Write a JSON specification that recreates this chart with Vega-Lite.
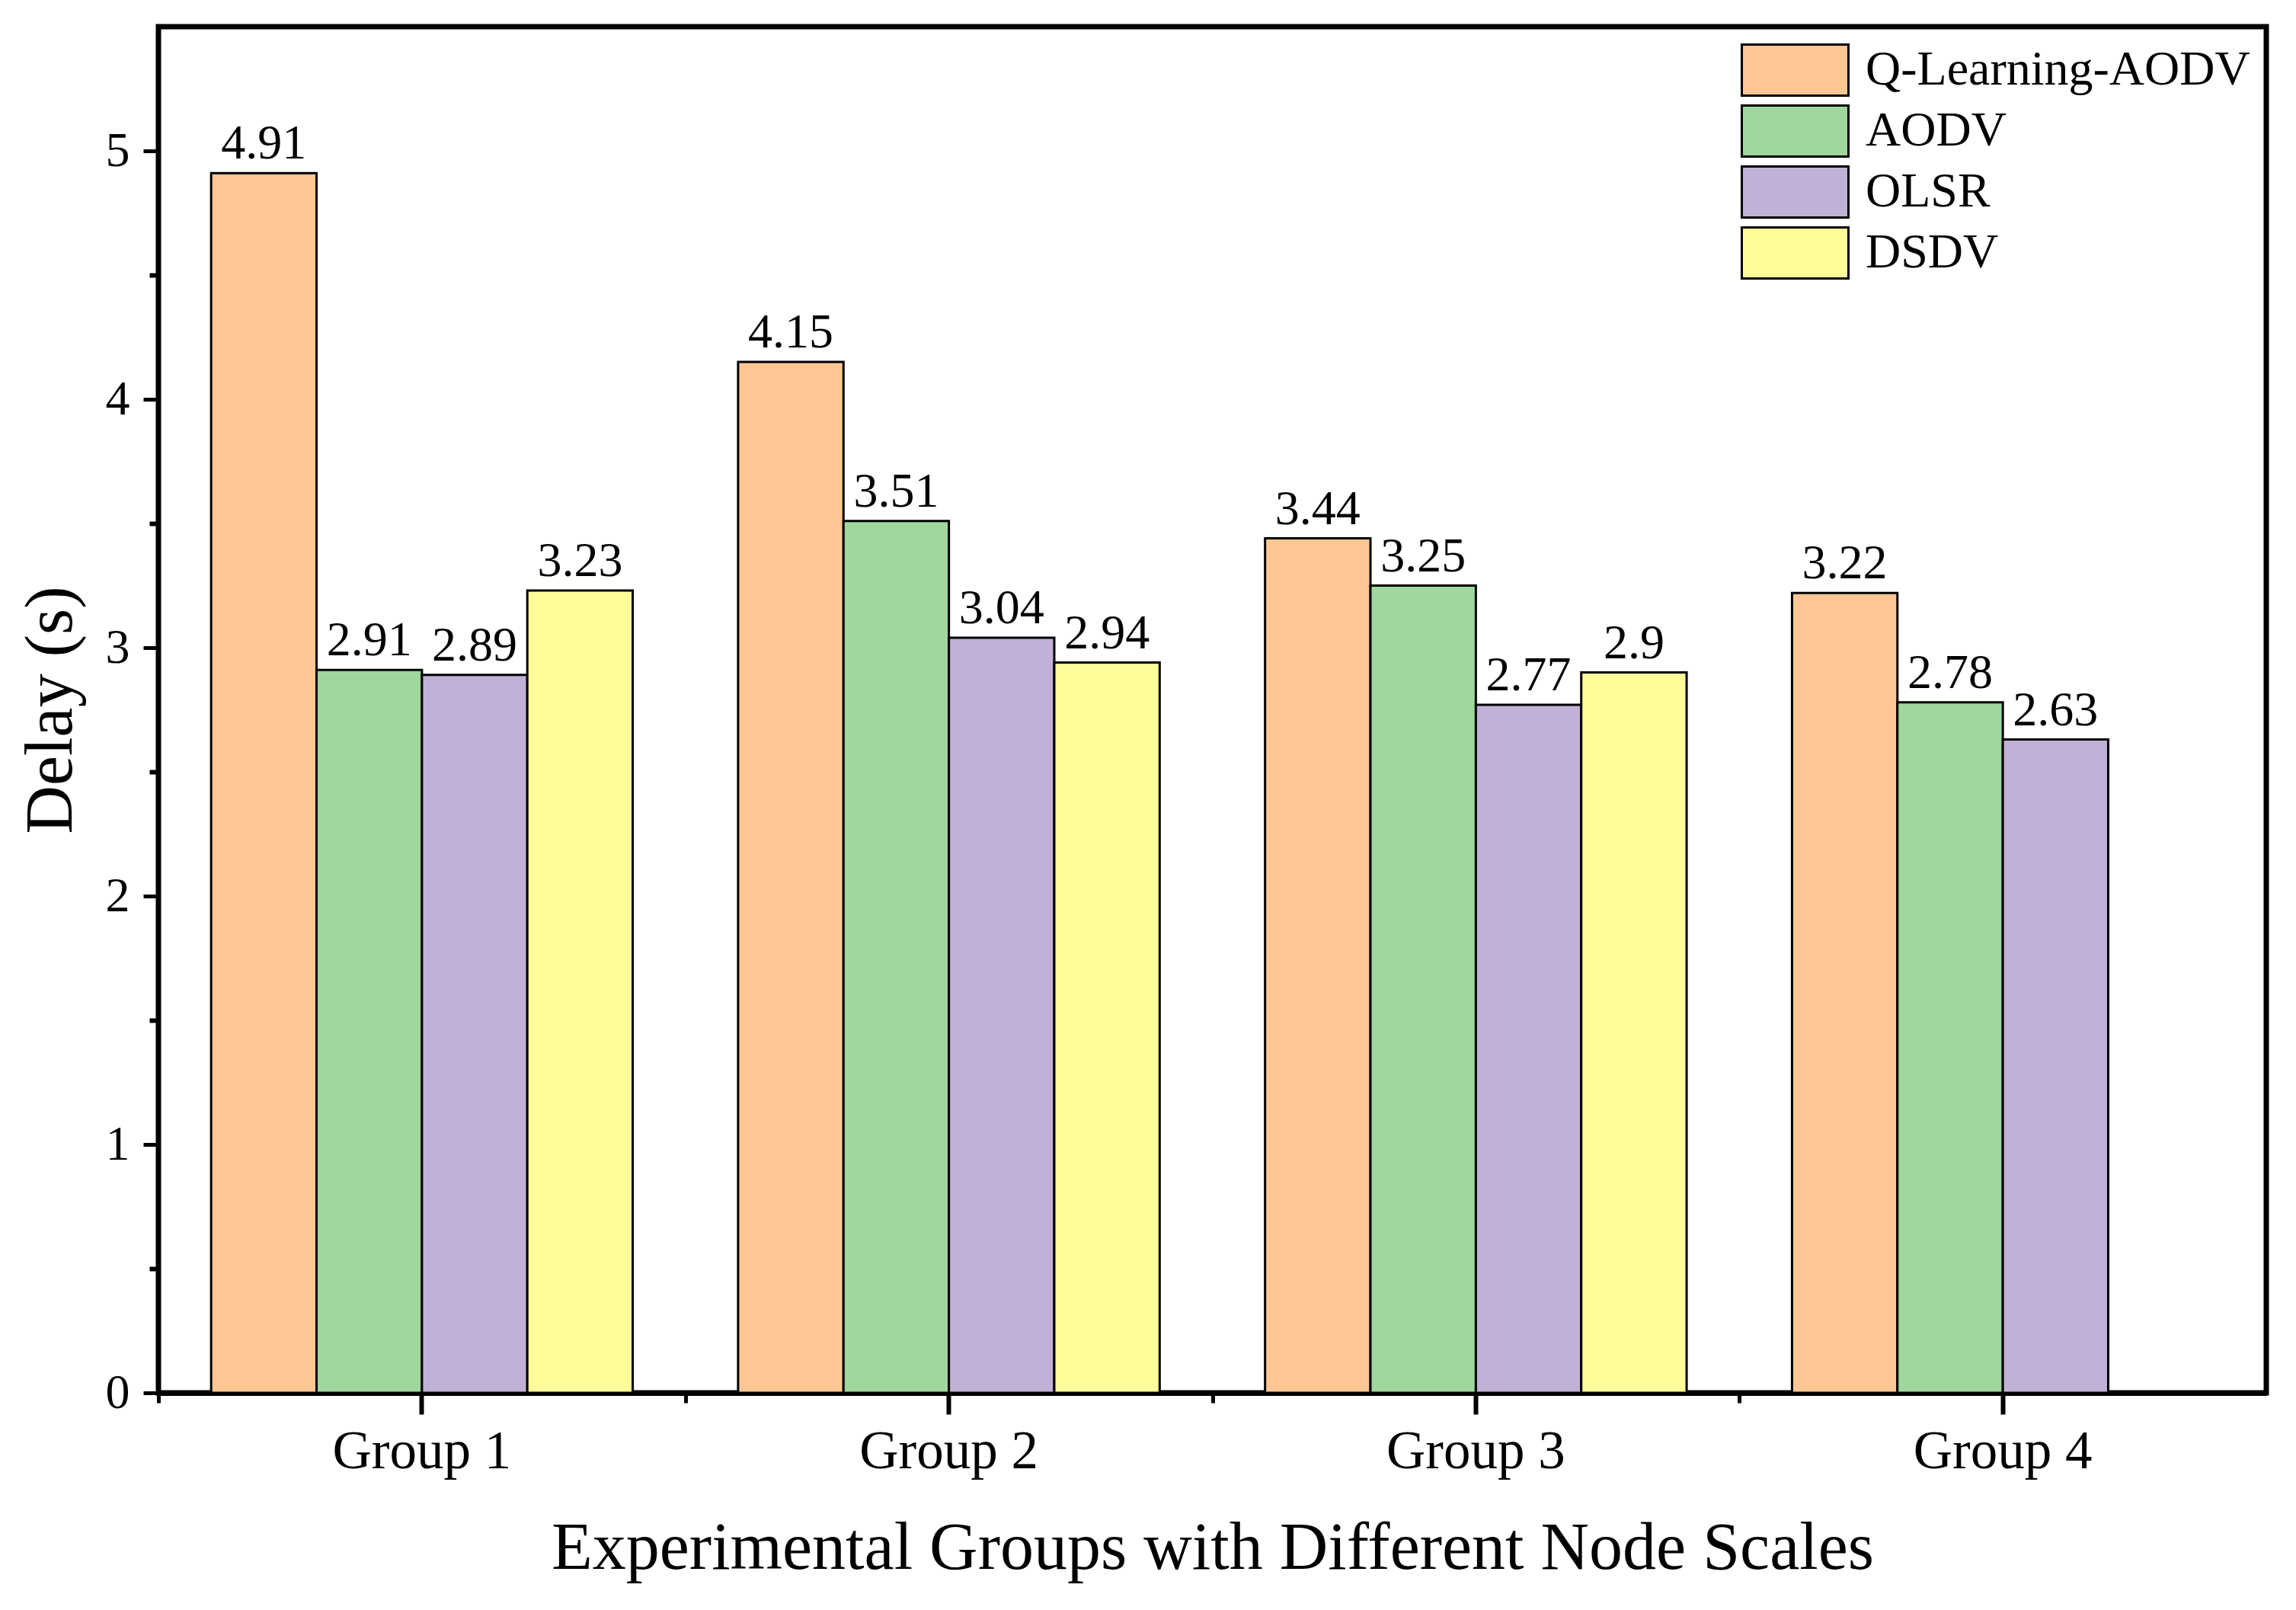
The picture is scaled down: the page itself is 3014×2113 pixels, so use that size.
{
  "$schema": "https://vega.github.io/schema/vega-lite/v6.json",
  "width": 2767,
  "height": 1793,
  "autosize": {"type": "none"},
  "padding": {"left": 208, "top": 35, "right": 39, "bottom": 285},
  "background": "white",
  "data": {
    "values": [
      {"group": "Group 1", "protocol": "Q-Learning-AODV", "delay": 4.91},
      {"group": "Group 1", "protocol": "AODV", "delay": 2.91},
      {"group": "Group 1", "protocol": "OLSR", "delay": 2.89},
      {"group": "Group 1", "protocol": "DSDV", "delay": 3.23},
      {"group": "Group 2", "protocol": "Q-Learning-AODV", "delay": 4.15},
      {"group": "Group 2", "protocol": "AODV", "delay": 3.51},
      {"group": "Group 2", "protocol": "OLSR", "delay": 3.04},
      {"group": "Group 2", "protocol": "DSDV", "delay": 2.94},
      {"group": "Group 3", "protocol": "Q-Learning-AODV", "delay": 3.44},
      {"group": "Group 3", "protocol": "AODV", "delay": 3.25},
      {"group": "Group 3", "protocol": "OLSR", "delay": 2.77},
      {"group": "Group 3", "protocol": "DSDV", "delay": 2.9},
      {"group": "Group 4", "protocol": "Q-Learning-AODV", "delay": 3.22},
      {"group": "Group 4", "protocol": "AODV", "delay": 2.78},
      {"group": "Group 4", "protocol": "OLSR", "delay": 2.63}
    ]
  },
  "layer": [
    {
      "mark": {"type": "bar", "stroke": "black", "strokeWidth": 3},
      "encoding": {
        "x": {
          "field": "group",
          "type": "nominal",
          "sort": null,
          "scale": {"paddingInner": 0, "paddingOuter": 0},
          "axis": {
            "orient": "bottom",
            "title": null,
            "labels": false,
            "ticks": true,
            "tickOffset": -345.875,
            "tickSize": 13,
            "tickWidth": 5,
            "domainWidth": 7
          }
        },
        "xOffset": {
          "field": "protocol",
          "type": "nominal",
          "scale": {
            "domain": ["Q-Learning-AODV", "AODV", "OLSR", "DSDV"],
            "paddingInner": 0,
            "paddingOuter": 0.5
          }
        },
        "y": {
          "field": "delay",
          "type": "quantitative",
          "scale": {"domain": [0, 5.5], "nice": false},
          "axis": {
            "orient": "left",
            "title": "Delay (s)",
            "titleFontSize": 88,
            "titleFontWeight": "normal",
            "titlePadding": 27,
            "values": [0, 1, 2, 3, 4, 5],
            "labelFontSize": 64,
            "labelPadding": 18,
            "tickSize": 20,
            "tickWidth": 5,
            "domainWidth": 5,
            "grid": false
          }
        },
        "color": {
          "field": "protocol",
          "type": "nominal",
          "scale": {
            "domain": ["Q-Learning-AODV", "AODV", "OLSR", "DSDV"],
            "range": ["#FDC794", "#9FD79D", "#C1B1D6", "#FEFD99"]
          },
          "legend": {
            "title": null,
            "orient": "none",
            "legendX": 2077,
            "legendY": 17,
            "padding": 0,
            "symbolType": "M-1,-0.48L1,-0.48L1,0.48L-1,0.48Z",
            "symbolSize": 19600,
            "symbolStrokeColor": "black",
            "symbolStrokeWidth": 3,
            "symbolOpacity": 1,
            "clipHeight": 80,
            "rowPadding": 0,
            "labelFontSize": 64,
            "labelOffset": 21,
            "labelLimit": 1000
          }
        }
      }
    },
    {
      "mark": {"type": "text", "baseline": "bottom", "dy": -6, "fontSize": 64},
      "encoding": {
        "x": {
          "field": "group",
          "type": "nominal",
          "sort": null,
          "axis": {
            "orient": "bottom",
            "title": "Experimental Groups with Different Node Scales",
            "titleFontSize": 88,
            "titleFontWeight": "normal",
            "titlePadding": 48,
            "labelFontSize": 71,
            "labelAngle": 0,
            "labelPadding": 14,
            "labelLimit": 1000,
            "ticks": true,
            "tickColor": "black",
            "tickSize": 28,
            "tickWidth": 6,
            "domain": false
          }
        },
        "xOffset": {
          "field": "protocol",
          "type": "nominal",
          "scale": {"domain": ["Q-Learning-AODV", "AODV", "OLSR", "DSDV"]}
        },
        "y": {
          "field": "delay",
          "type": "quantitative",
          "axis": {
            "orient": "left",
            "title": null,
            "labels": false,
            "values": [0.5, 1.5, 2.5, 3.5, 4.5],
            "tickSize": 12,
            "tickWidth": 6,
            "domain": false,
            "grid": false
          }
        },
        "text": {"field": "delay", "type": "quantitative"}
      }
    }
  ],
  "resolve": {"axis": {"x": "independent", "y": "independent"}},
  "config": {
    "font": "Liberation Serif",
    "view": {"stroke": "black", "strokeWidth": 7},
    "axis": {
      "labelColor": "black",
      "titleColor": "black",
      "domainColor": "black",
      "tickColor": "black",
      "labelFont": "Liberation Serif",
      "titleFont": "Liberation Serif"
    },
    "legend": {"labelFont": "Liberation Serif", "labelColor": "black"},
    "text": {"font": "Liberation Serif", "color": "black"}
  }
}
